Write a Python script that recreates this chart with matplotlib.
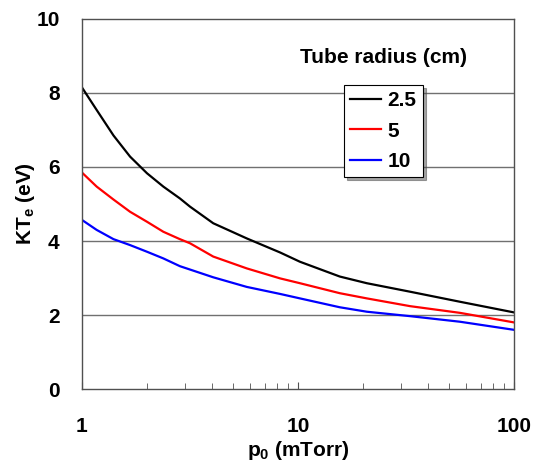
import matplotlib.pyplot as plt
from matplotlib.ticker import FixedLocator, LogLocator, NullFormatter

# pressure (mTorr) and electron temperature (eV) for each tube radius
p0 = [1, 1.17, 1.4, 1.67, 2, 2.38, 2.84, 3.16, 4.05, 5.79, 8.26, 10.2, 15.6, 20.8, 33, 56, 100]
te_r25 = [8.15, 7.54, 6.85, 6.28, 5.83, 5.47, 5.15, 4.93, 4.48, 4.07, 3.69, 3.44, 3.04, 2.86, 2.63, 2.36, 2.07]
te_r5 = [5.85, 5.47, 5.12, 4.79, 4.52, 4.25, 4.05, 3.94, 3.58, 3.26, 2.99, 2.86, 2.59, 2.45, 2.24, 2.06, 1.80]
te_r10 = [4.57, 4.30, 4.05, 3.89, 3.71, 3.53, 3.32, 3.23, 3.02, 2.76, 2.57, 2.45, 2.21, 2.09, 1.97, 1.82, 1.60]
radii = ["2.5", "5", "10"]

plt.rcParams['font.family'] = 'Liberation Sans'
plt.rcParams['font.weight'] = 'bold'
plt.rcParams['axes.labelweight'] = 'bold'
plt.rcParams['font.size'] = 15
plt.rcParams['mathtext.fontset'] = 'custom'
plt.rcParams['mathtext.rm'] = 'Liberation Sans:bold'
plt.rcParams['mathtext.default'] = 'rm'

fig = plt.figure(figsize=(5.39, 4.61), dpi=100)
ax = fig.add_axes([0.152, 0.156, 0.802, 0.803])

ax.plot(p0, te_r25, color='black', lw=1.6, label=radii[0])
ax.plot(p0, te_r5, color='#ff0000', lw=1.6, label=radii[1])
ax.plot(p0, te_r10, color='#0000ff', lw=1.6, label=radii[2])

ax.set_xscale('log')
ax.set_xlim(1, 100)
ax.set_ylim(0, 10)
ax.yaxis.set_major_locator(FixedLocator([0, 2, 4, 6, 8, 10]))
ax.set_xticks([1, 10, 100])
ax.set_xticklabels(['1', '10', '100'])
ax.xaxis.set_minor_locator(LogLocator(base=10, subs=range(2, 10)))
ax.xaxis.set_minor_formatter(NullFormatter())

for y in [2, 4, 6, 8]:
    ax.axhline(y, color='#707070', lw=1.0, zorder=0)

for s in ax.spines.values():
    s.set_color('#505050')
    s.set_linewidth(1.0)

ax.tick_params(axis='y', length=0, pad=16)
ax.tick_params(axis='x', which='major', direction='in', length=5, pad=20, color='#505050')
ax.tick_params(axis='x', which='minor', direction='in', length=4, color='#505050')

ax.set_xlabel(r'p$_{0}$ (mTorr)', labelpad=2)
ax.set_ylabel(r'KT$_{e}$ (eV)', va='center')
ax.yaxis.set_label_coords(-0.13, 0.5)

ax.text(0.697, 0.895, 'Tube radius (cm)', transform=ax.transAxes,
        ha='center', va='center')

leg = ax.legend(loc='upper left', bbox_to_anchor=(0.606, 0.822),
                frameon=True, fancybox=False, shadow=True,
                handlelength=1.5, handletextpad=0.3, borderpad=0.3,
                labelspacing=0.55, borderaxespad=0)
leg.get_frame().set_edgecolor('black')
leg.get_frame().set_linewidth(0.8)

fig.savefig('out.png', dpi=100)
